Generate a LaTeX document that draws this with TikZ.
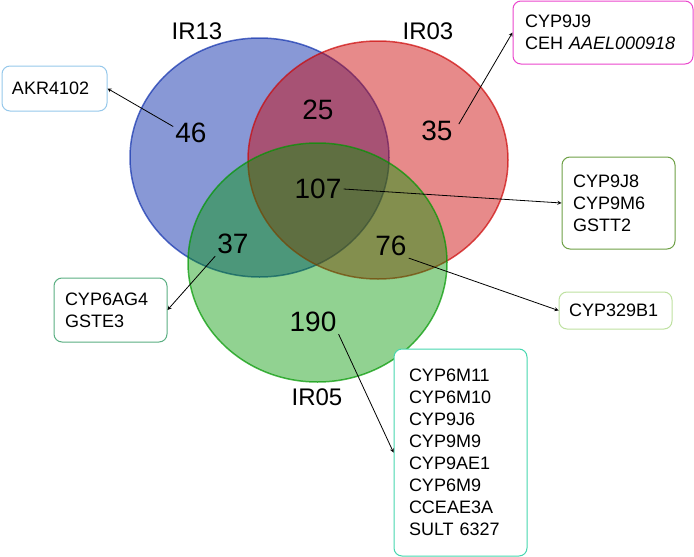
\documentclass[tikz,border=0pt]{standalone}
\usepackage{fontspec}
\setmainfont{Liberation Sans}

\definecolor{irblue}{RGB}{17,49,173}
\definecolor{irred}{RGB}{204,6,6}
\definecolor{irgreen}{RGB}{0,151,0}
\definecolor{akrline}{RGB}{150,200,235}
\definecolor{jnineline}{RGB}{235,70,205}
\definecolor{jeightline}{RGB}{110,160,70}
\definecolor{bline}{RGB}{190,225,160}
\definecolor{agline}{RGB}{90,175,130}
\definecolor{bigline}{RGB}{70,215,175}

\tikzset{
  vset/.style 2 args={fill=#1, fill opacity=#2, draw=#1, draw opacity=0.7, line width=1.5pt},
  count/.style={font=\fontsize{28}{28}\selectfont, inner sep=2pt},
  setname/.style={font=\fontsize{24}{24}\selectfont},
  genebox/.style={draw=#1, fill=white, rounded corners=8pt, align=left,
    line width=1pt, font=\fontsize{18}{22}\selectfont},
}

\begin{document}
\begin{tikzpicture}[x=1pt,y=-1pt,>=stealth]
\useasboundingbox (0,0) rectangle (694,557);
% the three sets
\draw[vset={irblue}{0.5}] (259.5,157.5) ellipse [x radius=129.5pt, y radius=119.5pt];
\draw[vset={irred}{0.47}] (378,160) ellipse [x radius=130pt, y radius=119pt];
\draw[vset={irgreen}{0.43}] (317.5,262.5) ellipse [x radius=129.5pt, y radius=119.5pt];
\node[setname] (ir13) at (197,31) {IR13};
\node[setname] (ir03) at (428,31) {IR03};
\node[setname] (ir05) at (317,397) {IR05};
% counts
\node[count] (n46) at (191,133) {46};
\node[count] (n25) at (318,110) {25};
\node[count] (n35) at (437,131) {35};
\node[count] (n107) at (318,189) {107};
\node[count] (n37) at (233,244) {37};
\node[count] (n76) at (391,246) {76};
\node[count] (n190) at (313,322) {190};
% gene boxes
\node[genebox=akrline, text width=85pt, inner xsep=10pt, minimum height=45pt] (akr) at (54.5,88.5) {AKR4102};
\node[genebox=jnineline, text width=156pt, inner xsep=12pt, minimum height=63pt] (j9) at (603,32.5) {CYP9J9\\CEH \textit{AAEL000918}};
\node[genebox=jeightline, text width=91pt, inner xsep=11pt, minimum height=92pt] (j8) at (618.5,203) {CYP9J8\\CYP9M6\\GSTT2};
\node[genebox=bline, text width=93pt, inner xsep=10pt, minimum height=37pt] (b1) at (615.5,310.5) {CYP329B1};
\node[genebox=agline, text width=91pt, inner xsep=11pt, minimum height=64pt] (ag4) at (110.5,310) {CYP6AG4\\GSTE3};
\node[genebox=bigline, text width=103pt, inner xsep=15pt, minimum height=207pt] (big) at (460.5,452.5) {CYP6M11\\CYP6M10\\CYP9J6\\CYP9M9\\CYP9AE1\\CYP6M9\\CCEAE3A\\SULT 6327};
% arrows
\draw[->,line width=0.8pt] (n46.160) -- (akr.east);
\draw[->,line width=0.8pt,shorten <=8pt] (n35.east) -- (j9.west);
\draw[->,line width=0.8pt] (n107.east) -- (j8.west);
\draw[->,line width=0.8pt] (n76.south east) -- (b1.west);
\draw[->,line width=0.8pt] (n37.south west) -- (ag4.east);
\draw[->,line width=0.8pt] (n190.south east) -- (big.west);
\end{tikzpicture}
\end{document}
